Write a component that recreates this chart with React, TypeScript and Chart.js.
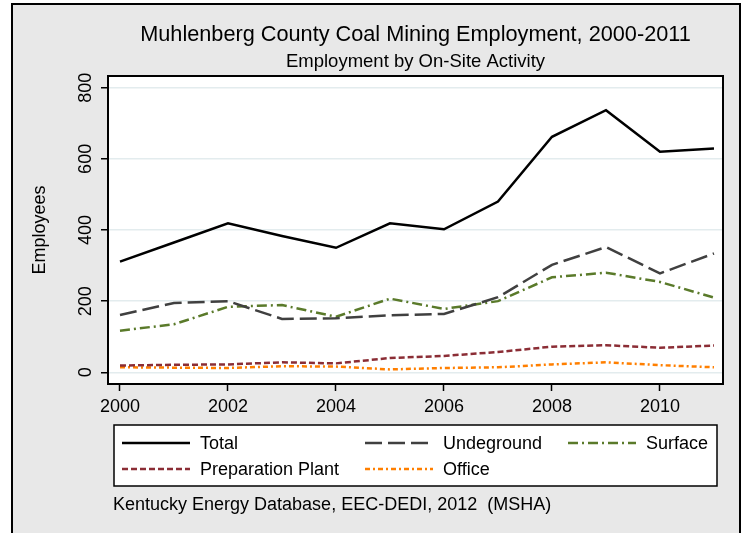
import { useEffect, useRef } from 'react';
import { Chart, registerables } from 'chart.js';

Chart.register(...registerables);

const years = [2000, 2001, 2002, 2003, 2004, 2005, 2006, 2007, 2008, 2009, 2010, 2011];
const total = [311, 365, 419, 383, 350, 419, 402, 480, 662, 737, 620, 629];
const underground = [161, 195, 200, 150, 152, 160, 164, 211, 302, 352, 278, 334];
const surface = [117, 135, 184, 189, 156, 207, 178, 200, 267, 280, 254, 210];
const prepPlant = [19, 21, 22, 28, 25, 40, 46, 57, 72, 76, 69, 75];
const office = [14, 13, 12, 17, 16, 8, 12, 14, 22, 28, 20, 14];

const xTicks = [2000, 2002, 2004, 2006, 2008, 2010];
const yTicks = [0, 200, 400, 600, 800];

const titleText = 'Muhlenberg County Coal Mining Employment, 2000-2011';
const subtitleText = 'Employment by On-Site Activity';
const yTitleText = 'Employees';
const sourceText = 'Kentucky Energy Database, EEC-DEDI, 2012  (MSHA)';

const FONT = '"Liberation Sans", Arial, sans-serif';

const framePlugin = {
  id: 'stataFrame',
  beforeDraw(chart: any) {
    const { ctx, width, height, chartArea } = chart;
    ctx.save();
    ctx.fillStyle = '#ffffff';
    ctx.fillRect(0, 0, width, height);
    ctx.fillStyle = '#e8e8e8';
    ctx.fillRect(12, 4, 728, height - 4);
    ctx.strokeStyle = '#000000';
    ctx.lineWidth = 2;
    ctx.beginPath();
    ctx.moveTo(12, height);
    ctx.lineTo(12, 4);
    ctx.lineTo(740, 4);
    ctx.lineTo(740, height);
    ctx.stroke();
    ctx.fillStyle = '#ffffff';
    ctx.fillRect(chartArea.left, chartArea.top, chartArea.right - chartArea.left, chartArea.bottom - chartArea.top);
    ctx.restore();
  },
  afterDraw(chart: any) {
    const { ctx, chartArea } = chart;
    ctx.save();
    // plot border
    ctx.strokeStyle = '#000000';
    ctx.lineWidth = 2;
    ctx.strokeRect(chartArea.left, chartArea.top, chartArea.right - chartArea.left, chartArea.bottom - chartArea.top);
    // titles
    const cx = (chartArea.left + chartArea.right) / 2;
    ctx.fillStyle = '#000000';
    ctx.textAlign = 'center';
    ctx.textBaseline = 'middle';
    ctx.font = `21.7px ${FONT}`;
    ctx.fillText(titleText, cx, 35);
    ctx.font = `18.5px ${FONT}`;
    ctx.fillText(subtitleText, cx, 62);
    // legend box
    ctx.fillStyle = '#ffffff';
    ctx.fillRect(114, 425, 603, 61);
    ctx.lineWidth = 1.5;
    ctx.strokeStyle = '#000000';
    ctx.strokeRect(114, 425, 603, 61);
    const cols = [122, 365, 568];
    const rows = [443, 469];
    chart.data.datasets.forEach((ds: any, i: number) => {
      const x = cols[i % 3];
      const y = rows[Math.floor(i / 3)];
      ctx.save();
      ctx.strokeStyle = ds.borderColor;
      ctx.lineWidth = ds.borderWidth;
      ctx.setLineDash(ds.borderDash || []);
      ctx.beginPath();
      ctx.moveTo(x, y);
      ctx.lineTo(x + 68, y);
      ctx.stroke();
      ctx.restore();
      ctx.fillStyle = '#000000';
      ctx.textAlign = 'left';
      ctx.textBaseline = 'middle';
      ctx.font = `18px ${FONT}`;
      ctx.fillText(ds.label, x + 78, y + 1);
    });
    // source note
    ctx.fillStyle = '#000000';
    ctx.textAlign = 'left';
    ctx.textBaseline = 'middle';
    ctx.font = `18px ${FONT}`;
    ctx.fillText(sourceText, 113, 505);
    ctx.restore();
  },
};

export default function App() {
  const ref = useRef<HTMLCanvasElement | null>(null);

  useEffect(() => {
    if (!ref.current) return;
    Chart.defaults.font.family = FONT;
    const pts = (arr: number[]) => arr.map((v, i) => ({ x: years[i], y: v }));
    const chart = new Chart(ref.current, {
      type: 'line',
      data: {
        datasets: [
          { label: 'Total', data: pts(total), borderColor: '#000000', borderWidth: 2.5, borderDash: [], pointRadius: 0 },
          { label: 'Undeground', data: pts(underground), borderColor: '#404040', borderWidth: 2.5, borderDash: [17, 6], pointRadius: 0 },
          { label: 'Surface', data: pts(surface), borderColor: '#5a7a2a', borderWidth: 2.5, borderDash: [10, 4, 2, 4], pointRadius: 0 },
          { label: 'Preparation Plant', data: pts(prepPlant), borderColor: '#8b2d35', borderWidth: 2.5, borderDash: [6, 3], pointRadius: 0 },
          { label: 'Office', data: pts(office), borderColor: '#ff7f00', borderWidth: 2.5, borderDash: [5, 3, 2, 3], pointRadius: 0 },
        ],
      },
      options: {
        responsive: false,
        animation: false,
        devicePixelRatio: 1,
        layout: { padding: { left: 12, right: 23, top: 76, bottom: 119 } },
        plugins: {
          legend: { display: false },
          title: { display: false },
          tooltip: { enabled: false },
        },
        elements: { line: { tension: 0 } },
        scales: {
          x: {
            type: 'linear',
            min: 1999.778,
            max: 2011.167,
            afterBuildTicks: (s: any) => { s.ticks = xTicks.map((v) => ({ value: v })); },
            afterFit: (s: any) => { s.height = 30; },
            ticks: {
              autoSkip: false,
              maxRotation: 0,
              padding: 5,
              color: '#000000',
              font: { size: 18 },
              callback: (v: any) => String(v),
            },
            grid: { drawOnChartArea: false, tickLength: 7, tickColor: '#000000', tickWidth: 1.5 },
            border: { display: false },
          },
          y: {
            type: 'linear',
            min: -33,
            max: 833,
            afterBuildTicks: (s: any) => { s.ticks = yTicks.map((v) => ({ value: v })); },
            afterFit: (s: any) => { s.width = 96; },
            ticks: {
              autoSkip: false,
              minRotation: 90,
              maxRotation: 90,
              crossAlign: 'center',
              padding: 0,
              color: '#000000',
              font: { size: 18 },
              callback: (v: any) => String(v),
            },
            grid: { color: '#e3ecee', lineWidth: 1.5, tickLength: 7, tickColor: '#000000', tickWidth: 1.5 },
            border: { display: false },
            title: {
              display: true,
              text: yTitleText,
              color: '#000000',
              font: { size: 18 },
              padding: { top: 17, bottom: 0 },
            },
          },
        },
      },
      plugins: [framePlugin],
    } as any);
    return () => chart.destroy();
  }, []);

  return (
    <div style={{ position: 'absolute', left: 0, top: 0, width: 746, height: 533 }}>
      <canvas ref={ref} width={746} height={533} style={{ display: 'block', width: 746, height: 533 }} />
    </div>
  );
}
